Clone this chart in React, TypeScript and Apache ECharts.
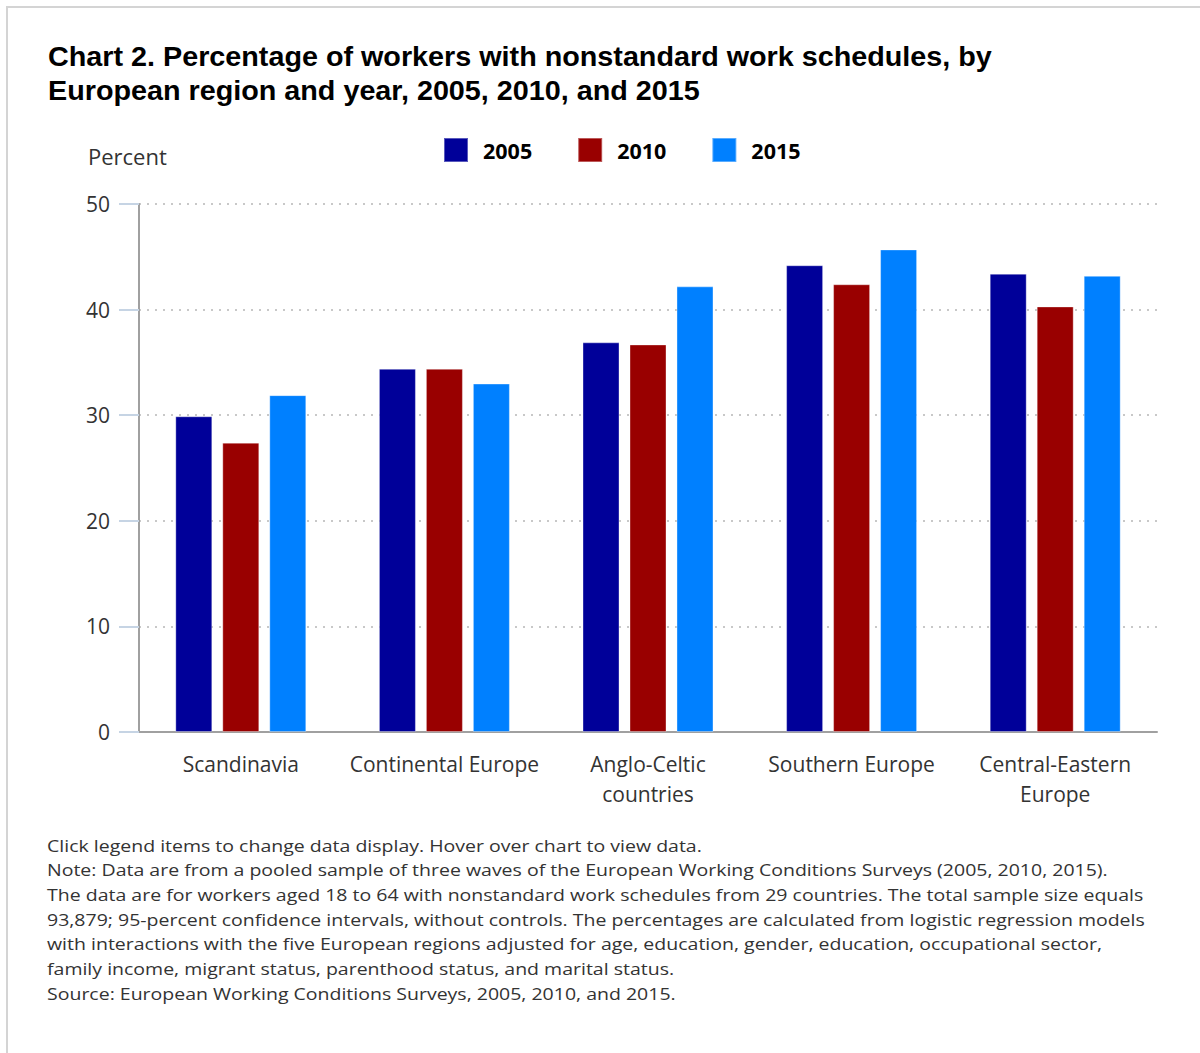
import React, { useEffect, useRef } from "react";
import * as echarts from "echarts";

const categories = [
  "Scandinavia",
  "Continental Europe",
  "Anglo-Celtic\ncountries",
  "Southern Europe",
  "Central-Eastern\nEurope",
];
const seriesNames = ["2005", "2010", "2015"];
const values2005 = [29.9, 34.4, 36.9, 44.2, 43.4];
const values2010 = [27.4, 34.4, 36.7, 42.4, 40.3];
const values2015 = [31.9, 33.0, 42.2, 45.7, 43.2];
const colors = ["#000099", "#990000", "#0080ff"];
const yTicks = { min: 0, max: 50, interval: 10 };

const titleLines = [
  "Chart 2. Percentage of workers with nonstandard work schedules, by",
  "European region and year, 2005, 2010, and 2015",
];
const noteLines = [
  "Click legend items to change data display. Hover over chart to view data.",
  "Note: Data are from a pooled sample of three waves of the European Working Conditions Surveys (2005, 2010, 2015).",
  "The data are for workers aged 18 to 64 with nonstandard work schedules from 29 countries. The total sample size equals",
  "93,879; 95-percent confidence intervals, without controls. The percentages are calculated from logistic regression models",
  "with interactions with the five European regions adjusted for age, education, gender, education, occupational sector,",
  "family income, migrant status, parenthood status, and marital status.",
  "Source: European Working Conditions Surveys, 2005, 2010, and 2015.",
];

export default function App() {
  const ref = useRef<HTMLDivElement>(null);
  useEffect(() => {
    if (!ref.current) return;
    const chart = echarts.init(ref.current, null, { renderer: "svg" });
    const allValues = [values2005, values2010, values2015];
    const font = "'Open Sans', sans-serif";
    chart.setOption({
      animation: false,
      backgroundColor: "#ffffff",
      grid: { left: 139, right: 43, top: 204, bottom: 321, containLabel: false },
      legend: {
        left: 443,
        top: 137,
        padding: 0,
        itemWidth: 24,
        itemHeight: 24,
        itemGap: 45,
        icon: "rect",
        data: seriesNames,
        textStyle: {
          fontFamily: font,
          fontWeight: "bold",
          fontSize: 21.5,
          color: "#000",
          padding: [0, 0, 0, 10],
        },
      },
      xAxis: {
        type: "category",
        data: categories,
        axisTick: { show: false },
        axisLine: { show: true, lineStyle: { color: "#a0a0a0", width: 2 } },
        axisLabel: {
          fontFamily: font,
          fontSize: 21,
          color: "#333",
          lineHeight: 30,
          margin: 17,
          interval: 0,
        },
      },
      yAxis: {
        type: "value",
        min: yTicks.min,
        max: yTicks.max,
        interval: yTicks.interval,
        axisLine: { show: true, lineStyle: { color: "#a0a0a0", width: 2 } },
        axisTick: { show: true, length: 20, lineStyle: { color: "#c6d4e4", width: 2 } },
        axisLabel: { fontFamily: font, fontSize: 21, color: "#333", margin: 29 },
        splitLine: { show: true, lineStyle: { color: "#c8c8c8", width: 2, type: [2, 6] } },
      },
      series: seriesNames.map((name, i) => ({
        name,
        type: "bar",
        data: allValues[i],
        barWidth: 37,
        barGap: "27%",
        itemStyle: { color: colors[i], borderColor: "rgba(255,255,255,0.35)", borderWidth: 1 },
      })),
      graphic: [
        { type: "line", shape: { x1: 6, y1: 7, x2: 1200, y2: 7 }, style: { stroke: "#d4d4d4", lineWidth: 2 } },
        { type: "line", shape: { x1: 7, y1: 6, x2: 7, y2: 1053 }, style: { stroke: "#d4d4d4", lineWidth: 2 } },
        {
          type: "text",
          x: 48,
          y: 40,
          scaleX: 1.065,
          style: {
            text: titleLines.join("\n"),
            fontFamily: "'Liberation Sans', Arial, sans-serif",
            fontWeight: "bold",
            fontSize: 27,
            lineHeight: 34,
            fill: "#000",
            verticalAlign: "top",
          },
        },
        {
          type: "text",
          x: 88,
          y: 145,
          style: { text: "Percent", fontFamily: font, fontSize: 22, fill: "#333", verticalAlign: "top" },
        },
        {
          type: "text",
          x: 47,
          y: 833,
          scaleX: 1.22,
          style: {
            text: noteLines.join("\n"),
            fontFamily: font,
            fontSize: 16,
            lineHeight: 24.7,
            fill: "#333",
            verticalAlign: "top",
          },
        },
      ],
    });
    return () => chart.dispose();
  }, []);
  return (
    <div
      ref={ref}
      style={{ position: "fixed", left: 0, top: 0, width: 1200, height: 1053 }}
    />
  );
}
